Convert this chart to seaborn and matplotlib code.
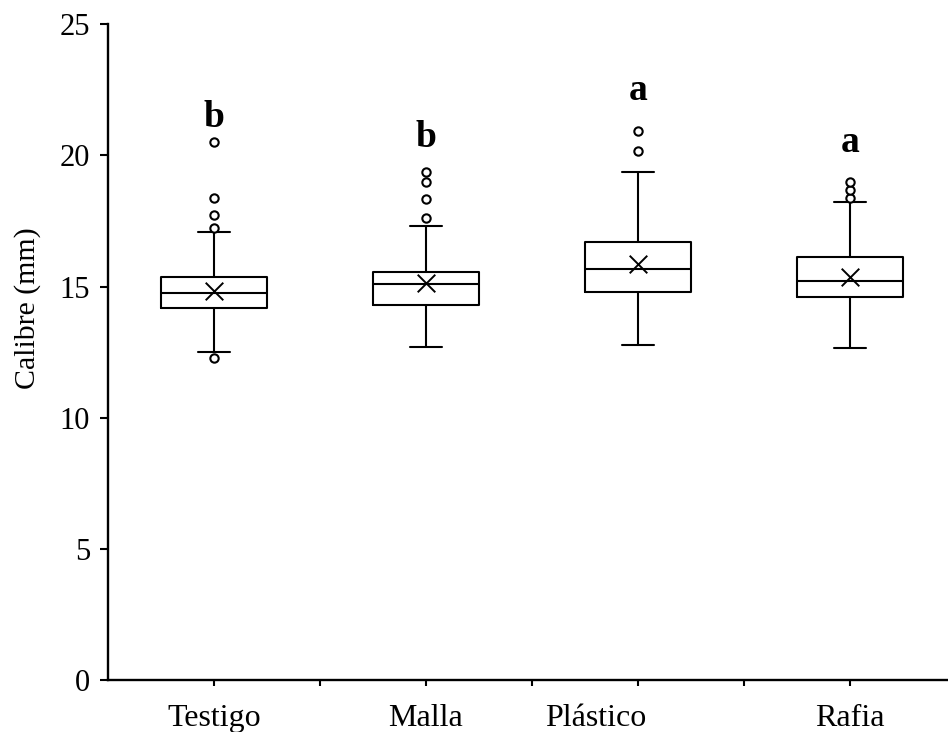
import matplotlib
matplotlib.use("Agg")
import matplotlib.pyplot as plt
from matplotlib.ticker import FixedLocator
import seaborn as sns
import pandas as pd

# Resumen de calibre por tratamiento (mm)
tratamientos = ["Testigo", "Malla", "Plástico", "Rafia"]
q1 = [14.18, 14.30, 14.79, 14.60]
mediana = [14.75, 15.10, 15.67, 15.21]
q3 = [15.36, 15.55, 16.70, 16.13]
bigote_inf = [12.50, 12.70, 12.77, 12.66]
bigote_sup = [17.08, 17.31, 19.37, 18.22]
media = [14.83, 15.14, 15.86, 15.36]
atipicos = [
    [12.28, 17.23, 17.73, 18.38, 20.51],
    [17.61, 18.34, 18.99, 19.37],
    [20.17, 20.93],
    [18.38, 18.68, 18.99],
]
letras = ["b", "b", "a", "a"]

sns.set_theme(style="ticks")
plt.rcParams["font.family"] = ["Liberation Serif", "DejaVu Serif"]
plt.rcParams["text.color"] = "black"
plt.rcParams["axes.labelcolor"] = "black"
plt.rcParams["xtick.color"] = "black"
plt.rcParams["ytick.color"] = "black"

# posiciones en el eje: una caja cada dos marcas
posiciones = [2 * i + 1 for i in range(len(tratamientos))]
pos_etiquetas = [1, 3, 4.6, 7]
alto_letras = [21.08, 20.32, 22.11, 20.13]

fig = plt.figure(figsize=(9.48, 7.32), dpi=100)
ax = fig.add_axes([108 / 948, 1 - 680 / 732, 1 - 108 / 948, (680 - 24.3) / 732])

stats = []
for i, t in enumerate(tratamientos):
    stats.append(dict(label=t, q1=q1[i], med=mediana[i], q3=q3[i],
                      whislo=bigote_inf[i], whishi=bigote_sup[i], fliers=[]))

linea = dict(color="black", linewidth=1.5)
ax.bxp(stats, positions=posiciones, widths=1.0, capwidths=0.3,
       showfliers=False, manage_ticks=False, patch_artist=False,
       boxprops=linea, medianprops=linea, whiskerprops=linea, capprops=linea)

df_atip = pd.DataFrame(
    [(posiciones[i], v) for i, vals in enumerate(atipicos) for v in vals],
    columns=["pos", "calibre"],
)
sns.scatterplot(data=df_atip, x="pos", y="calibre", ax=ax, marker="o", s=36,
                facecolor="white", edgecolor="black", linewidth=1.5, zorder=4)

df_media = pd.DataFrame({"pos": posiciones, "media": media})
sns.scatterplot(data=df_media, x="pos", y="media", ax=ax, marker="x", s=160,
                color="black", linewidth=1.4, zorder=4)

for p, letra, h in zip(posiciones, letras, alto_letras):
    ax.text(p, h, letra, ha="center", va="baseline", fontsize=27,
            fontweight="bold", color="black")

ax.set_xlim(0, 7.925)
ax.set_ylim(0, 25)
ax.set_yticks([0, 5, 10, 15, 20, 25])
# marcas en cada posición entera; los nombres van como marcas menores sin trazo
ax.xaxis.remove_overlapping_locs = False
ax.xaxis.set_major_locator(FixedLocator(list(range(1, 8))))
ax.xaxis.set_major_formatter(plt.NullFormatter())
ax.xaxis.set_minor_locator(FixedLocator(pos_etiquetas))
ax.set_xticklabels(tratamientos, minor=True)
ax.tick_params(axis="x", which="minor", length=0, pad=17, labelsize=23)
ax.tick_params(axis="x", which="major", length=4, width=1.5, direction="out")
ax.tick_params(axis="y", length=6, width=1.5, direction="out", pad=7,
               labelsize=22)
ax.set_xlabel("")
ax.set_ylabel("")

for s in ["top", "right"]:
    ax.spines[s].set_visible(False)
for s in ["left", "bottom"]:
    ax.spines[s].set_linewidth(1.7)
    ax.spines[s].set_color("black")

fig.text(28 / 948, 1 - 308 / 732, "Calibre (mm)", rotation=90, ha="center",
         va="center", fontsize=21.5, color="black")

fig.savefig("out.png", dpi=100, facecolor="white")
